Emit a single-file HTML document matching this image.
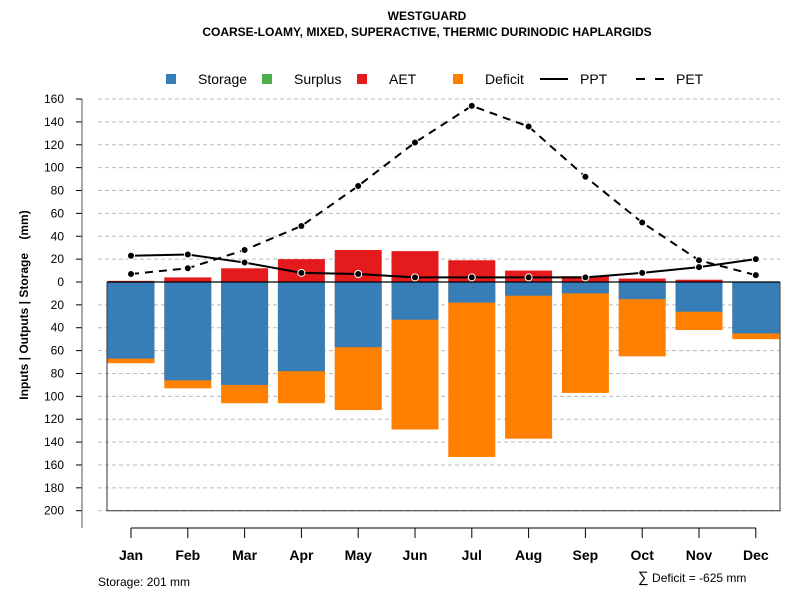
<!DOCTYPE html>
<html><head><meta charset="utf-8"><style>
body{margin:0;background:#fff;font-family:"Liberation Sans",sans-serif}
svg text{font-family:"Liberation Sans",sans-serif}
</style></head><body>
<svg id="c" width="800" height="600" xmlns="http://www.w3.org/2000/svg">
<text x="427" y="20" text-anchor="middle" font-size="12" font-weight="bold">WESTGUARD</text>
<text x="427" y="36" text-anchor="middle" font-size="12" font-weight="bold">COARSE-LOAMY, MIXED, SUPERACTIVE, THERMIC DURINODIC HAPLARGIDS</text>
<g id="legend">
<rect x="166" y="74" width="10" height="10" fill="#377eb8"/>
<text x="198" y="84" font-size="14">Storage</text>
<rect x="262" y="74" width="10" height="10" fill="#4daf4a"/>
<text x="294" y="84" font-size="14">Surplus</text>
<rect x="357" y="74" width="10" height="10" fill="#e41a1c"/>
<text x="389" y="84" font-size="14">AET</text>
<rect x="453" y="74" width="10" height="10" fill="#ff7f00"/>
<text x="485" y="84" font-size="14">Deficit</text>
<line x1="540" y1="79" x2="568" y2="79" stroke="#000" stroke-width="2"/>
<text x="580" y="84" font-size="14">PPT</text>
<line x1="636" y1="79" x2="666" y2="79" stroke="#000" stroke-width="2" stroke-dasharray="9,10"/>
<text x="676" y="84" font-size="14">PET</text>
</g>
<text transform="translate(28,305) rotate(-90)" text-anchor="middle" font-size="12" font-weight="bold" style="white-space:pre" xml:space="preserve">Inputs | Outputs | Storage    (mm)</text>
<text x="98" y="586" font-size="12">Storage: 201 mm</text>
<text x="638" y="582" font-size="12"><tspan font-size="15">∑</tspan> Deficit = -625 mm</text>
<g id="g"></g>
</svg>
<script>
const months=["Jan","Feb","Mar","Apr","May","Jun","Jul","Aug","Sep","Oct","Nov","Dec"];
const aet=[1,4,12,20,28,27,19,10,5,3,2,0];
const storage=[67,86,90,78,57,33,18,12,10,15,26,45];
const deficitTotal=[71,93,106,106,112,129,153,137,97,65,42,50];
const ppt=[23,24,17,8,7,4,4,4,4,8,13,20];
const pet=[7,12,28,49,84,122,154,136,92,52,19,6];
const yTicks=[160,140,120,100,80,60,40,20,0,20,40,60,80,100,120,140,160,180,200];
const yTickSigns=[1,1,1,1,1,1,1,1,1,-1,-1,-1,-1,-1,-1,-1,-1,-1,-1];

const NS="http://www.w3.org/2000/svg";
const g=document.getElementById('g');
const y=v=>282-v*1.1435;
const x=i=>131+i*56.8;
const bw=47;
function mk(t,a){const e=document.createElementNS(NS,t);for(const k in a)e.setAttribute(k,a[k]);g.appendChild(e);return e;}

yTicks.forEach((t,i)=>{
  const yy=y(t*yTickSigns[i]);
  if(t!==0){const l=mk('line',{x1:98,x2:780,y1:yy,y2:yy,stroke:'#bbb','stroke-dasharray':'4,3'});
  
  }
  const tk=mk('line',{x1:76,x2:82,y1:yy,y2:yy,stroke:'#000'});
  
  
  const tx=mk('text',{x:64,y:yy+4,'text-anchor':'end','font-size':12});
  tx.textContent=t;
  
  
});
const ya=mk('line',{x1:82,x2:82,y1:y(160),y2:528,stroke:'#555'});



months.forEach((m,i)=>{
  const cx=x(i);
  const d=mk('rect',{x:cx-bw/2,y:y(0),width:bw,height:y(-deficitTotal[i])-y(0),fill:'#ff7f00'});
  
  
  const s=mk('rect',{x:cx-bw/2,y:y(0),width:bw,height:y(-storage[i])-y(0),fill:'#377eb8'});
  
  
  const a=mk('rect',{x:cx-bw/2,y:y(aet[i]),width:bw,height:y(0)-y(aet[i]),fill:'#e41a1c'});
  
  
  const tk=mk('line',{x1:cx,x2:cx,y1:528,y2:538,stroke:'#000'});
  
  
  const tx=mk('text',{x:cx,y:560,'text-anchor':'middle','font-size':14,'font-weight':'bold'});
  tx.textContent=m;
  
  
});
const xa=mk('line',{x1:x(0),x2:x(11),y1:528,y2:528,stroke:'#000'});


const box=mk('path',{d:`M107 ${y(0)} V${y(-200)} H780 V${y(0)}`,fill:'none',stroke:'#333'});


const z=mk('line',{x1:107,x2:780,y1:y(0),y2:y(0),stroke:'#000','stroke-width':1.3});



function series(vals,dash,name){
  const p=mk('polyline',{points:vals.map((v,i)=>x(i)+','+y(v)).join(' '),fill:'none',stroke:'#000','stroke-width':2,'stroke-dasharray':dash});
  
  
  vals.forEach((v,i)=>{
    const c=mk('circle',{cx:x(i),cy:y(v),r:3.5,fill:'#000',stroke:'#fff','stroke-width':1});
    
    
  });
}
series(pet,'8,6','pet');
series(ppt,'none','ppt');
</script>
</body></html>
